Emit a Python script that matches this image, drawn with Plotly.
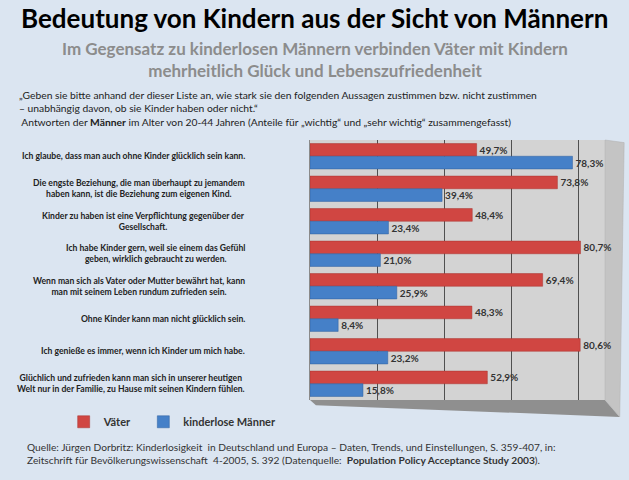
import plotly.graph_objects as go

# Aussagen (von oben nach unten)
aussagen = [
    "Ich glaube, dass man auch ohne Kinder glücklich sein kann.",
    "Die engste Beziehung, die man überhaupt zu jemandem<br>haben kann, ist die Beziehung zum eigenen Kind.",
    "Kinder zu haben ist eine Verpflichtung gegenüber der<br>Gesellschaft.",
    "Ich habe Kinder gern, weil sie einem das Gefühl<br>geben, wirklich gebraucht zu werden.",
    "Wenn man sich als Vater oder Mutter bewährt hat, kann<br>man mit seinem Leben rundum zufrieden sein.",
    "Ohne Kinder kann man nicht glücklich sein.",
    "Ich genieße es immer, wenn ich Kinder um mich habe.",
    "Glüchlich und zufrieden kann man sich in unserer heutigen<br>Welt nur in der Familie, zu Hause mit seinen Kindern fühlen.",
]
vaeter = [49.7, 73.8, 48.4, 80.7, 69.4, 48.3, 80.6, 52.9]
kinderlose = [78.3, 39.4, 23.4, 21.0, 25.9, 8.4, 23.2, 15.8]
cat_ids = list(range(len(aussagen)))

FONT = "Lato"

fig = go.Figure()
fig.add_trace(go.Bar(y=cat_ids, x=vaeter, orientation="h", name="Väter",
                     marker=dict(color="#d04642", line=dict(color="#a8322f", width=0.5)),
                     texttemplate="%{x:.1f}%", textposition="outside",
                     textfont=dict(family=FONT, size=10, color="#333333", weight="bold"),
                     cliponaxis=False, legend="legend", showlegend=True))
fig.add_trace(go.Bar(y=cat_ids, x=kinderlose, orientation="h", name="kinderlose Männer",
                     marker=dict(color="#4580c8", line=dict(color="#2f5f9e", width=0.5)),
                     texttemplate="%{x:.1f}%", textposition="outside",
                     textfont=dict(family=FONT, size=10, color="#333333", weight="bold"),
                     cliponaxis=False, legend="legend2", showlegend=True))

# Beschriftungen der Aussagen
for i, txt in zip(cat_ids, aussagen):
    fig.add_annotation(x=-0.2136, xref="paper", y=i, yref="y", text=txt,
                       xanchor="right", yanchor="middle", align="center", showarrow=False,
                       font=dict(family=FONT, size=8.6, color="#222222", weight="bold"))

fig.add_annotation(x=0.0153, xref="paper", xanchor="center", y=1.469, yref="paper",
                   yanchor="middle",
                   text="<b>Bedeutung von Kindern aus der Sicht von Männern</b>",
                   showarrow=False, font=dict(family=FONT, size=26, color="#000000"))
fig.add_annotation(x=0.0153, xref="paper", xanchor="center", y=1.308, yref="paper",
                   yanchor="middle",
                   text="Im Gegensatz zu kinderlosen Männern verbinden Väter mit Kindern<br>mehrheitlich Glück und Lebenszufriedenheit",
                   showarrow=False, align="center",
                   font=dict(family=FONT, size=17, color="#8c8c8c", weight="bold"))
fig.add_annotation(x=-0.993, xref="paper", xanchor="left", y=1.123, yref="paper",
                   yanchor="middle",
                   text="„Geben sie bitte anhand der dieser Liste an, wie stark sie den folgenden Aussagen zustimmen bzw. nicht zustimmen<br>"
                        "– unabhängig davon, ob sie Kinder haben oder nicht.“<br>"
                        " Antworten der <b>Männer</b> im Alter von 20-44 Jahren (Anteile für „wichtig“ und „sehr wichtig“ zusammengefasst)",
                   showarrow=False, align="left",
                   font=dict(family=FONT, size=10.3, color="#222222"))
fig.add_annotation(x=-0.966, xref="paper", xanchor="left", y=-0.204, yref="paper",
                   yanchor="middle",
                   text="Quelle: Jürgen Dorbritz: Kinderlosigkeit  in Deutschland und Europa – Daten, Trends, und Einstellungen, S. 359-407, in:<br>"
                        "Zeitschrift für Bevölkerungswissenschaft  4-2005, S. 392 (Datenquelle:  <b>Population Policy Acceptance Study 2003</b>).",
                   showarrow=False, align="left",
                   font=dict(family=FONT, size=10.2, color="#333333"))

# Boden und rechte Seitenwand der Grafik
fig.add_shape(type="path", xref="paper", yref="paper",
              path="M 0,0 L 1,0 L 1.05,-0.065 L 0.02,-0.02 Z",
              fillcolor="#8f8f8f", line=dict(width=0), layer="below")
fig.add_shape(type="path", xref="paper", yref="paper",
              path="M 1,1 L 1.065,0.99 L 1.05,-0.065 L 1,0 Z",
              fillcolor="#c4c4c4", line=dict(color="#b0b0b0", width=0.5), layer="below")

legend_common = dict(orientation="h", yanchor="top", y=-0.028, xanchor="left",
                     font=dict(family=FONT, size=11, color="#333333", weight="bold"),
                     bgcolor="rgba(0,0,0,0)", itemwidth=30)

fig.update_layout(
    width=629, height=480,
    margin=dict(l=310, r=24, t=140, b=80),
    paper_bgcolor="#dbe5f1",
    plot_bgcolor="#d3d3d3",
    separators=",.",
    showlegend=True,
    barmode="group", bargap=0.22, bargroupgap=0,
    font=dict(family=FONT, color="#222222"),
    legend=dict(x=-0.835, **legend_common),
    legend2=dict(x=-0.565, **legend_common),
    xaxis=dict(range=[0, 88], tickvals=[20, 40, 60, 80], showticklabels=False,
               showgrid=True, gridcolor="#505050", gridwidth=1, zeroline=False,
               showline=False),
    yaxis=dict(autorange="reversed", showticklabels=False, showgrid=False,
               zeroline=False, showline=True, linecolor="#8a8a8a", linewidth=1),
)

fig.write_html("out.html", config={"displayModeBar": False},
               post_script="document.body.style.margin='0';")
